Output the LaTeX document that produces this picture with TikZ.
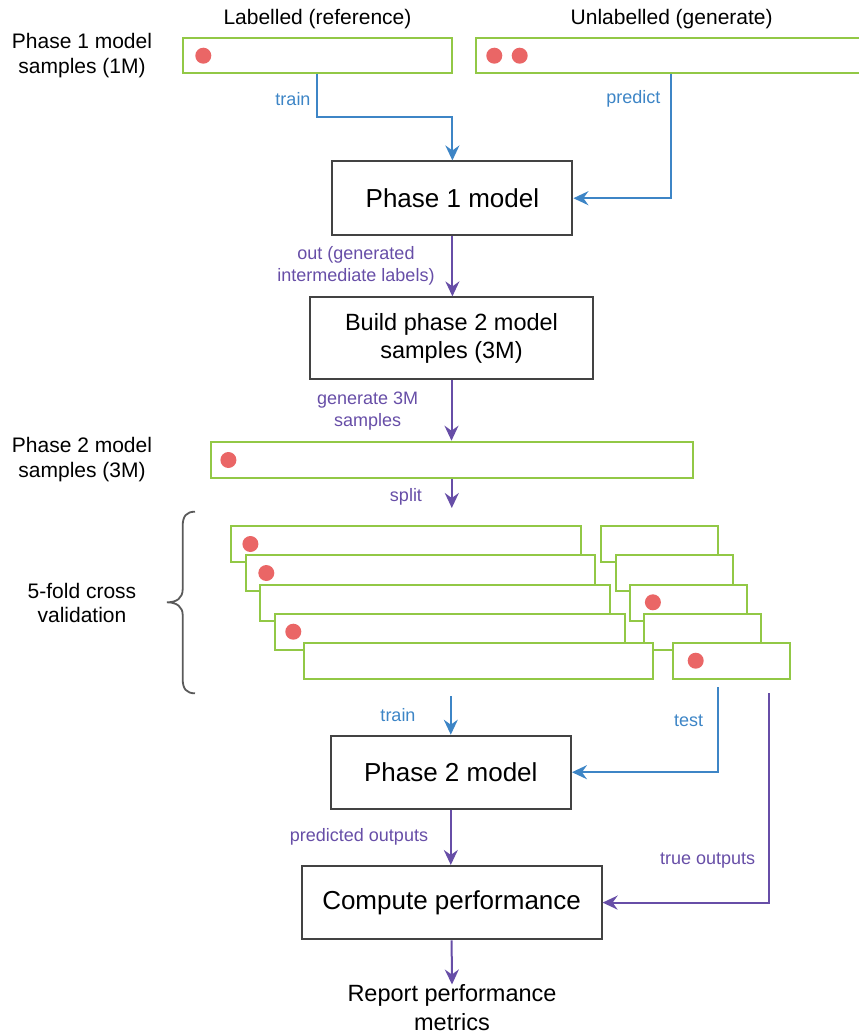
\documentclass[tikz,border=0pt]{standalone}
\usepackage{fontspec}
\setmainfont{Liberation Sans}
\usetikzlibrary{arrows.meta}

\definecolor{sampgreen}{RGB}{146,200,70}
\definecolor{flowblue}{RGB}{61,133,198}
\definecolor{flowpurple}{RGB}{103,78,167}
\definecolor{dotred}{RGB}{234,102,102}
\definecolor{boxgray}{RGB}{67,67,67}
\definecolor{bracegray}{RGB}{90,90,90}

\tikzset{
  samplebar/.style={draw=sampgreen, line width=2pt, fill=white, rectangle, inner sep=0pt},
  stagebox/.style={draw=boxgray, line width=2pt, fill=white, rectangle, inner sep=0pt,
    align=center, font=\fontsize{26}{30}\selectfont},
  stageboxsmall/.style={stagebox, font=\fontsize{23.5}{28.3}\selectfont},
  sample/.style={fill=dotred, draw=none, circle, minimum size=16pt, inner sep=0pt},
  sidelabel/.style={align=center, inner sep=0pt, font=\fontsize{21}{25}\selectfont},
  flowlabel/.style={align=center, inner sep=0pt, font=\fontsize{18}{22}\selectfont},
  bluelabel/.style={flowlabel, text=flowblue},
  purplelabel/.style={flowlabel, text=flowpurple},
  tip/.style={-{Stealth[length=15pt,width=14pt,inset=5pt]}},
  blueflow/.style={tip, draw=flowblue, line width=2pt},
  purpleflow/.style={tip, draw=flowpurple, line width=2pt},
}

\begin{document}
\begin{tikzpicture}[x=1pt, y=-1pt]
\clip (0,0) rectangle (859,1034);

% column headers and row labels
\node[sidelabel] (hlab) at (317.5,19) {Labelled (reference)};
\node[sidelabel] (hunl) at (671.7,19) {Unlabelled (generate)};
\node[sidelabel] (l1) at (82,55.5) {Phase 1 model\\samples (1M)};
\node[sidelabel] (l2) at (82,460) {Phase 2 model\\samples (3M)};
\node[sidelabel, font=\fontsize{21}{24.5}\selectfont] (l3) at (82,603) {5-fold cross\\validation};

% phase 1 sample sets
\node[samplebar, minimum width=269.3pt, minimum height=35pt] (b1) at (317.3,55.2) {};
\node[samplebar, minimum width=386.3pt, minimum height=35pt] (b2) at (668.8,55.2) {};
\node[sample] (d1) at (203.3,55.7) {};
\node[sample] (d2) at (494.3,55.7) {};
\node[sample] (d3) at (519.7,55.7) {};

% processing stages
\node[stagebox, minimum width=240pt, minimum height=73.5pt] (p1) at (452.4,198.2) {Phase 1 model};
\node[stageboxsmall, minimum width=283pt, minimum height=82pt] (bd) at (451.5,338.4) {Build phase 2 model\\samples (3M)};
\node[samplebar, minimum width=481.7pt, minimum height=36pt] (s3) at (451.8,459.7) {};
\node[sample] (d4) at (228.4,460) {};

% five folds: training part and test part per row
\foreach \i/\bl/\sl in {0/231/601.4, 1/245.5/615.7, 2/260/630, 3/275/644.3, 4/303.5/673.3} {
  \pgfmathsetmacro{\tp}{526.3+29.1*\i}
  \draw[draw=sampgreen, line width=2pt, fill=white] (\bl,\tp) rectangle ++(349.5,36);
  \draw[draw=sampgreen, line width=2pt, fill=white] (\sl,\tp) rectangle ++(116.8,36);
}
\node[sample] (f0) at (250.4,544) {};
\node[sample] (f1) at (266.3,573) {};
\node[sample] (f2) at (652.9,602.3) {};
\node[sample] (f3) at (293.3,631.7) {};
\node[sample] (f4) at (695.7,660.7) {};

% brace grouping the folds
\draw[bracegray, line width=1.8pt]
  (195,511.7) .. controls (186.5,511.7) and (182.7,516) .. (182.7,526)
  -- (182.7,589) .. controls (182.7,598) and (177,602.3) .. (167,602.3)
  .. controls (177,602.3) and (182.7,607) .. (182.7,615)
  -- (182.7,679) .. controls (182.7,689) and (186.5,693.3) .. (195,693.3);

\node[stagebox, minimum width=240.3pt, minimum height=73pt] (p2) at (450.8,772.2) {Phase 2 model};
\node[stagebox, minimum width=300pt, minimum height=73.3pt] (cp) at (451.6,902.6) {Compute performance};
\node[align=center, inner sep=0pt, anchor=north, font=\fontsize{23.5}{28.5}\selectfont] (rep) at (452,984.5) {Report performance\\metrics};

% free ends of connectors
\coordinate (tj) at (452.4,117.3);
\coordinate (pr) at (671,0);
\coordinate (sp) at (451.8,508);
\coordinate (tr) at (450.8,696);
\coordinate (te) at (717.7,687);
\coordinate (to) at (768.7,693);

% connectors
\draw[blueflow] (b1.south) |- (tj) -- (p1.north);
\draw[blueflow] (b2.south -| pr) |- (p1.east);
\draw[purpleflow] (p1.south) -- (p1.south |- bd.north);
\draw[purpleflow] (bd.south) -- (bd.south |- s3.north);
\draw[purpleflow] (s3.south) -- (sp);
\draw[blueflow] (tr) -- (p2.north);
\draw[blueflow] (te) |- (p2.east);
\draw[purpleflow] (p2.south) -- (p2.south |- cp.north);
\draw[purpleflow] (to) |- (cp.east);
\draw[purpleflow] (cp.south) -- (rep.north);

% connector labels
\node[bluelabel] (lt1) at (293,99) {train};
\node[bluelabel] (lpr) at (633.3,99) {predict};
\node[purplelabel] (lout) at (356,266) {out (generated\\intermediate labels)};
\node[purplelabel] (lgen) at (367.7,411) {generate 3M\\samples};
\node[purplelabel] (lsp) at (406,497.3) {split};
\node[bluelabel] (lt2) at (398,715) {train};
\node[bluelabel] (lte) at (688.7,720.7) {test};
\node[purplelabel] (lpo) at (359,837.3) {predicted outputs};
\node[purplelabel] (lto) at (707.7,860.7) {true outputs};
\end{tikzpicture}
\end{document}
